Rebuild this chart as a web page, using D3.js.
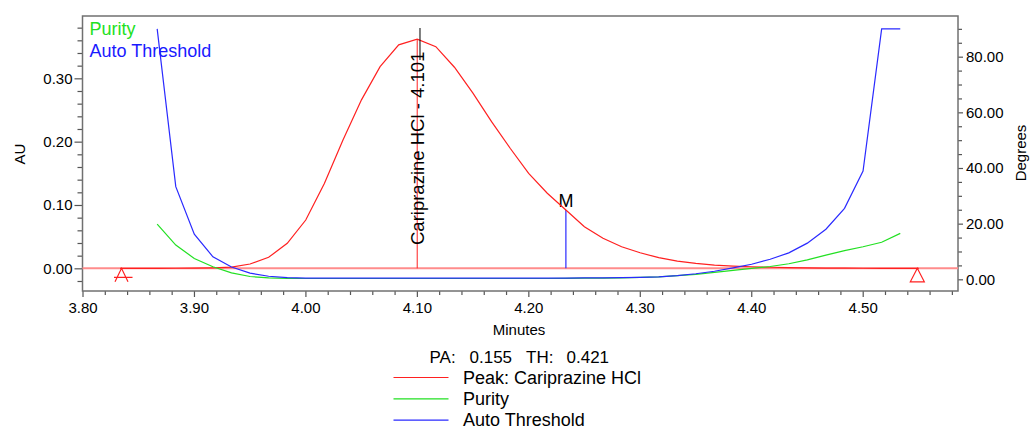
<!DOCTYPE html>
<html><head><meta charset="utf-8">
<script src="https://cdn.jsdelivr.net/npm/d3@7"></script>
<style>html,body{margin:0;padding:0;background:#fff;} svg{display:block;font-family:"Liberation Sans",Arial,sans-serif;}</style>
</head><body><svg id="c" width="1031" height="431"></svg>
<script>
// ---- data ----
const times = [3.8337,3.8503,3.8670,3.8837,3.9003,3.9170,3.9337,3.9503,3.9670,3.9837,
  4.0003,4.0170,4.0337,4.0503,4.0670,4.0837,4.1003,4.1170,4.1337,4.1503,
  4.1670,4.1837,4.2003,4.2170,4.2337,4.2503,4.2670,4.2837,4.3003,4.3170,
  4.3337,4.3503,4.3670,4.3837,4.4003,4.4170,4.4337,4.4503,4.4670,4.4837,
  4.5003,4.5170,4.5337,4.5503];
const peakAU = [0.0000,0.0000,0.0000,0.0001,0.0003,0.0008,0.0018,0.0068,0.0174,0.0395,
  0.0763,0.1340,0.2027,0.2660,0.3185,0.3528,0.3618,0.3500,0.3175,0.2765,
  0.2316,0.1896,0.1500,0.1185,0.0920,0.0657,0.0474,0.0341,0.0246,0.0168,
  0.0115,0.0079,0.0052,0.0036,0.0025,0.0017,0.0011,0.0007,0.0004,0.0002,
  0.0001,0.0000,0.0000,0.0000];
const purityTimes = [3.8670,3.8837,3.9003,3.9170,3.9337,3.9503,3.9670,3.9837,
  4.0003,4.0170,4.0337,4.0503,4.0670,4.0837,4.1003,4.1170,4.1337,4.1503,
  4.1670,4.1837,4.2003,4.2170,4.2337,4.2503,4.2670,4.2837,4.3003,4.3170,
  4.3337,4.3503,4.3670,4.3837,4.4003,4.4170,4.4337,4.4503,4.4670,4.4837,
  4.5003,4.5170,4.5337];
const purityAngle = [19.8,12.3,7.5,4.5,2.3,1.0,0.5,0.35,
  0.3,0.3,0.3,0.3,0.3,0.3,0.3,0.3,0.3,0.3,
  0.3,0.3,0.3,0.3,0.35,0.4,0.45,0.55,0.7,0.9,
  1.3,1.8,2.5,3.2,3.95,4.6,5.6,7.0,8.7,10.3,
  11.7,13.3,16.5];
const autoThreshold = [90.0,33.3,16.2,8.1,4.4,2.2,1.1,0.6,
  0.45,0.4,0.4,0.4,0.4,0.4,0.4,0.4,0.4,0.4,
  0.4,0.4,0.4,0.45,0.45,0.5,0.55,0.6,0.7,0.9,
  1.3,2.0,2.9,4.1,5.4,7.2,9.5,13.0,18.0,25.5,
  38.9,90.0,90.0];
const xTicks = [3.8,3.9,4.0,4.1,4.2,4.3,4.4,4.5];
const auTicks = [0,0.1,0.2,0.3];
const degTicks = [0,20,40,60,80];
const peakName = "Cariprazine HCl";
const peakRT = 4.101;
const peakApexIndex = 16;
const markIndex = 24;
const markLabel = "M";
const baselineStart = 3.835, baselineEnd = 4.549;
const legendLabels = ["Peak: Cariprazine HCl","Purity","Auto Threshold"];
const topLegend = ["Purity","Auto Threshold"];
const paParts = ["PA:","0.155","TH:","0.421"];

// ---- layout ----
const L = 82.5, R = 958, T = 16, B = 291;
const RED = "#ff2020", GREEN = "#22e022", BLUE = "#2a2aff";
const svg = d3.select("#c");
const x = d3.scaleLinear().domain([3.80, 4.5855]).range([L, R]);
const yAU = d3.scaleLinear().domain([-0.0358, 0.3984]).range([B, T]);
const yDeg = d3.scaleLinear().domain([-4.2, 94.62]).range([B, T]);

const axisColor = "#555";
function styleAxis(g){ g.select(".domain").remove(); g.selectAll("line").attr("stroke", axisColor).attr("stroke-width",1.2); g.selectAll("text").attr("fill","#000").style("font-size","15px").style("font-family",'"Liberation Sans",Arial,sans-serif'); }

// minor ticks
const xMinor = d3.range(3.82, 4.585, 0.02).filter(v => Math.abs(Math.round(v*10)-v*10) > 0.01);
const auMinor = d3.range(-0.02, 0.39, 0.02).filter(v => Math.abs(Math.round(v*10)-v*10) > 0.01);
const degMinor = d3.range(5, 91, 5).filter(v => v % 20 !== 0);

svg.append("g").attr("transform",`translate(0,${B})`).call(d3.axisBottom(x).tickValues(xMinor).tickSize(4).tickFormat("")).call(styleAxis);
svg.append("g").attr("transform",`translate(0,${B})`).call(d3.axisBottom(x).tickValues(xTicks).tickSize(6).tickPadding(5).tickFormat(d3.format(".2f"))).call(styleAxis);
svg.append("g").attr("transform",`translate(${L},0)`).call(d3.axisLeft(yAU).tickValues(auMinor).tickSize(5).tickFormat("")).call(styleAxis);
svg.append("g").attr("transform",`translate(${L},0)`).call(d3.axisLeft(yAU).tickValues(auTicks).tickSize(8).tickPadding(2).tickFormat(d3.format(".2f"))).call(styleAxis);
svg.append("g").attr("transform",`translate(${R},0)`).call(d3.axisRight(yDeg).tickValues(degMinor).tickSize(4).tickFormat("")).call(styleAxis);
svg.append("g").attr("transform",`translate(${R},0)`).call(d3.axisRight(yDeg).tickValues(degTicks).tickSize(5).tickPadding(3).tickFormat(d3.format(".2f"))).call(styleAxis);

// frame
svg.append("rect").attr("x",L).attr("y",T).attr("width",R-L).attr("height",B-T)
  .attr("fill","none").attr("stroke","#707070").attr("stroke-width",1.5);

// axis titles
svg.append("text").attr("transform",`translate(25,154) rotate(-90)`).attr("text-anchor","middle").style("font-size","15px").text("AU");
svg.append("text").attr("transform",`translate(1026,153) rotate(-90)`).attr("text-anchor","middle").style("font-size","15px").text("Degrees");
svg.append("text").attr("x",519).attr("y",335).attr("text-anchor","middle").style("font-size","15px").text("Minutes");

const plot = svg.append("g");
// zero line
plot.append("line").attr("x1",L).attr("x2",R).attr("y1",yAU(0)).attr("y2",yAU(0))
  .attr("stroke","#ff8c8c").attr("stroke-width",2);

// peak drop line
plot.append("line").attr("x1",x(times[peakApexIndex])).attr("x2",x(times[peakApexIndex]))
  .attr("y1",yAU(peakAU[peakApexIndex])).attr("y2",yAU(0)).attr("stroke",RED).attr("stroke-width",1);

// M marker
plot.append("line").attr("x1",x(times[markIndex])).attr("x2",x(times[markIndex]))
  .attr("y1",yAU(peakAU[markIndex])).attr("y2",yAU(0)).attr("stroke",BLUE).attr("stroke-width",1.2);
plot.append("text").attr("x",x(times[markIndex])).attr("y",yAU(peakAU[markIndex])-3)
  .attr("text-anchor","middle").style("font-size","18px").text(markLabel);

// curves
const lineAU = d3.line().x((d,i)=>x(times[i])).y(d=>yAU(d));
plot.append("path").attr("d",lineAU(peakAU)).attr("fill","none").attr("stroke",RED).attr("stroke-width",1.2);
const lineDeg = d3.line().x((d,i)=>x(purityTimes[i])).y(d=>yDeg(d));
plot.append("path").attr("d",lineDeg(purityAngle)).attr("fill","none").attr("stroke",GREEN).attr("stroke-width",1.2);
plot.append("path").attr("d",lineDeg(autoThreshold)).attr("fill","none").attr("stroke",BLUE).attr("stroke-width",1.2);

// baseline markers
const bs = x(baselineStart), y0 = yAU(0);
plot.append("path").attr("d",`M${bs-6.5},${y0+13.5}L${bs},${y0}L${bs+6.5},${y0+13.5}M${bs-7.5},${y0+9}L${bs+11},${y0+9}`)
  .attr("fill","none").attr("stroke",RED).attr("stroke-width",1.2);
const be = x(baselineEnd);
plot.append("path").attr("d",`M${be},${y0}L${be+7},${y0+13.5}L${be-7},${y0+13.5}Z`)
  .attr("fill","none").attr("stroke",RED).attr("stroke-width",1.2);

// peak label
plot.append("line").attr("x1",x(peakRT)+2).attr("x2",x(peakRT)+2).attr("y1",28).attr("y2",60)
  .attr("stroke","#000").attr("stroke-width",1);
plot.append("text").attr("transform",`translate(423.5,245) rotate(-90)`).style("font-size","18.5px")
  .text(`${peakName} - ${peakRT.toFixed(3)}`);

// top-left legend
svg.append("text").attr("x",89.5).attr("y",35).attr("fill","#22e022").style("font-size","18px").text(topLegend[0]);
svg.append("text").attr("x",89.5).attr("y",56.5).attr("fill","#1a1aff").style("font-size","18px").text(topLegend[1]);

// bottom legend
const pa = svg.append("text").attr("y",362.5).style("font-size","17px");
const paX = [429.5, 469.5, 526, 566.5];
paParts.forEach((p,i)=>pa.append("tspan").attr("x",paX[i]).text(p));
const legColors = [RED, GREEN, BLUE];
legendLabels.forEach((lab,i)=>{
  const yy = 377.5 + i*21.3;
  svg.append("line").attr("x1",393.5).attr("x2",448.5).attr("y1",yy).attr("y2",yy).attr("stroke",legColors[i]).attr("stroke-width",1.2);
  svg.append("text").attr("x",463).attr("y",yy+6).style("font-size","18px").text(lab);
});
</script></body></html>
